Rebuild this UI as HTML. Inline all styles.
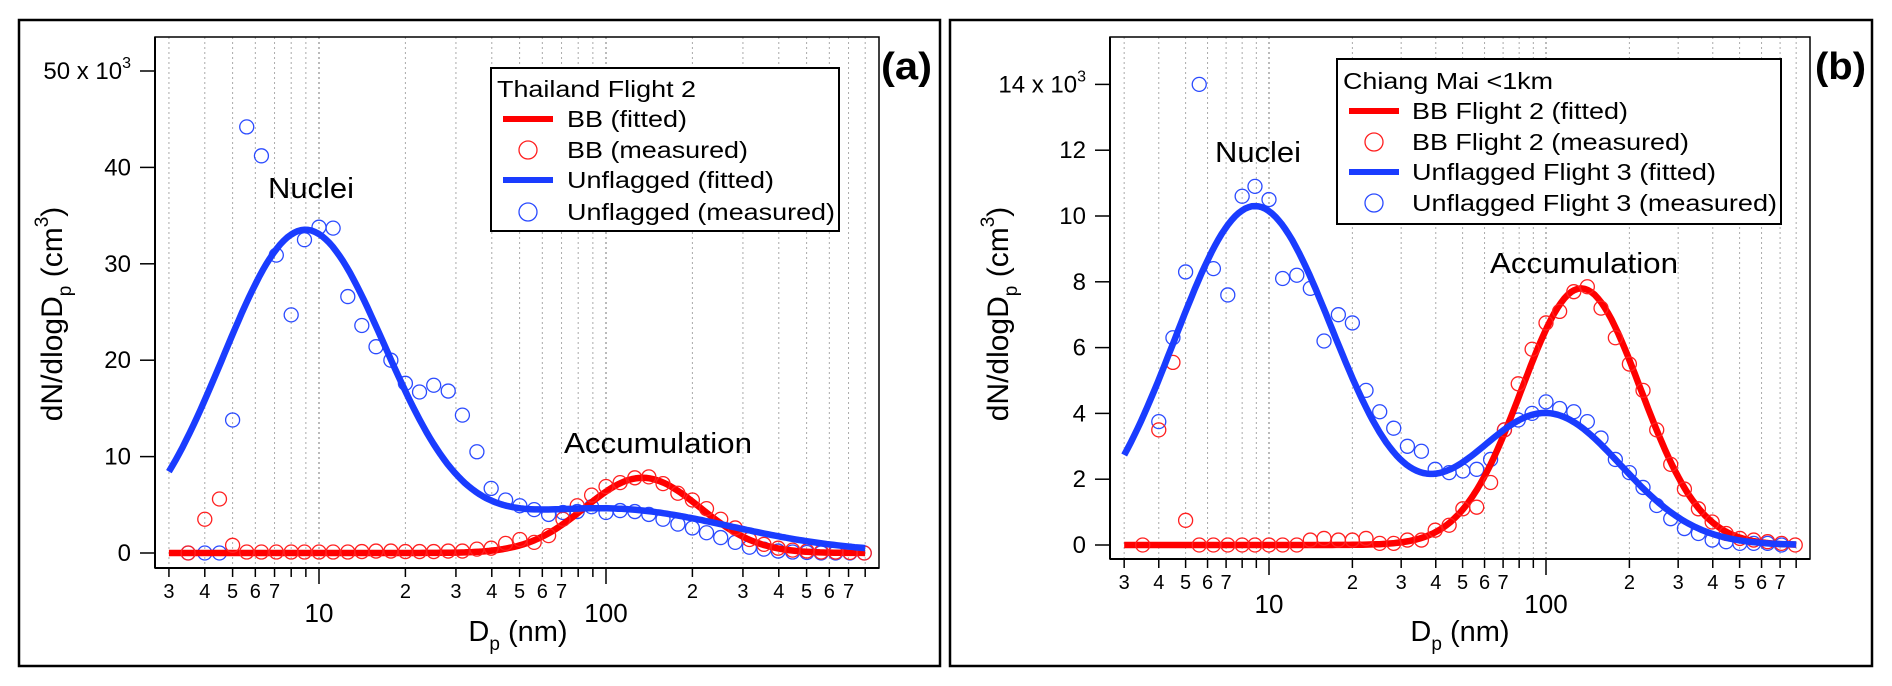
<!DOCTYPE html>
<html><head><meta charset="utf-8">
<style>
html,body{margin:0;padding:0;background:#fff;}
svg{display:block;font-family:"Liberation Sans",Arial,sans-serif;}
</style></head>
<body>
<svg id="fig" width="1892" height="686" viewBox="0 0 1892 686" xmlns="http://www.w3.org/2000/svg"></svg>
<script>
// ---- data (shared diameter bins, nm) ----
const diameters = [3.5,4.0,4.5,5.0,5.6,6.3,7.1,8.0,8.9,10,11.2,12.6,14.1,15.8,17.8,20,22.4,25.1,28.2,31.6,35.5,39.8,44.7,50.1,56.2,63.1,70.8,79.4,89.1,100,112,126,141,158,178,200,224,251,282,316,355,398,447,501,562,631,708,794];
// panel (a) measured, x10^3 cm^-3
const aBlueMeasured = [0,0,0,13.8,44.2,41.2,30.9,24.7,32.5,33.8,33.7,26.6,23.6,21.4,20.0,17.6,16.7,17.4,16.8,14.3,10.5,6.7,5.5,4.9,4.5,4.0,4.2,4.3,4.8,4.2,4.4,4.3,4.0,3.5,3.0,2.6,2.1,1.6,1.1,0.6,0.4,0.2,0.1,0.05,0,0,0,0];
const aRedMeasured = [0,3.5,5.6,0.8,0.1,0.1,0.1,0.1,0.1,0.1,0.1,0.1,0.15,0.2,0.2,0.15,0.15,0.15,0.2,0.2,0.4,0.5,1.0,1.4,1.1,1.8,3.5,4.9,6.0,6.9,7.3,7.8,7.9,7.2,6.2,5.5,4.6,3.5,2.6,1.4,0.9,0.5,0.3,0.2,0.1,0.1,0.05,0];
// panel (b) measured
const bBlueMeasured = [null,3.75,6.3,8.3,14.0,8.4,7.6,10.6,10.9,10.5,8.1,8.2,7.8,6.2,7.0,6.75,4.7,4.05,3.55,3.0,2.85,2.3,2.2,2.25,2.3,2.6,3.5,3.8,4.0,4.35,4.15,4.05,3.75,3.25,2.6,2.2,1.75,1.2,0.8,0.5,0.35,0.15,0.1,0.05,0.05,0.05,0,null];
const bRedMeasured = [0,3.5,5.55,0.75,0,0,0,0,0,0,0,0,0.15,0.2,0.15,0.15,0.2,0.05,0.05,0.15,0.15,0.45,0.6,1.1,1.15,1.9,3.5,4.9,5.95,6.75,7.1,7.7,7.85,7.2,6.3,5.5,4.7,3.5,2.45,1.7,1.1,0.7,0.35,0.2,0.15,0.1,0.05,0];
// fitted lognormal modes: [peak, median diameter nm, sigma (log10)]
const aBlueModes = [[33.3,8.9,0.285],[4.6,100,0.43]];
const aRedModes = [[7.8,134,0.2]];
const bBlueModes = [[10.3,8.9,0.29],[4.0,100,0.27]];
const bRedModes = [[7.8,134,0.215]];
const aYTicks = [0,10,20,30,40,50];
const bYTicks = [0,2,4,6,8,10,12,14];

const NS="http://www.w3.org/2000/svg";
const svg=document.getElementById('fig');
function mk(tag,attrs,parent,text){
  const e=document.createElementNS(NS,tag);
  for(const k in attrs)e.setAttribute(k,attrs[k]);
  if(text!==undefined)e.textContent=text;
  (parent||svg).appendChild(e);return e;
}
function modeVal(modes,d){let s=0;for(const m of modes){const l=Math.log10(d/m[1]);s+=m[0]*Math.exp(-l*l/(2*m[2]*m[2]));}return s;}

function panel(c){
  const g=mk('g',{});
  
  
  const fr=mk('rect',{x:c.bx,y:20,width:c.bw,height:646,fill:'none',stroke:'#000','stroke-width':2.5},g);
  
  
  const X=d=>c.x10+(Math.log10(d)-1)*c.dec;
  const Y=v=>c.y0-v*c.ppu;
  const tg=mk('g',{},g);
  
  
  const ticks=[];
  for(const base of [1,10,100]) for(let m=1;m<=9;m++){const d=m*base;if(d>=3&&d<=800)ticks.push([d,m]);}
  for(const [d,m] of ticks){
    const x=X(d);
    const gl=mk('line',{x1:x,x2:x,y1:c.top,y2:c.bot,stroke:m===1?'#777':'#aaa','stroke-width':1,'stroke-dasharray':'2,3'},tg);
    
    
    mk('line',{x1:x,x2:x,y1:c.bot,y2:c.bot+(m===1?16:9),stroke:'#000','stroke-width':1.5},tg);
    if(m===1){
      const t=mk('text',{x:x,y:c.bot+54,'font-size':26,'text-anchor':'middle'},tg,String(d));
      
      
    } else if(m<=7){
      const t=mk('text',{x:x,y:c.bot+30,'font-size':20,'text-anchor':'middle'},tg,String(m));
      
      
    }
  }
  const pf=mk('rect',{x:c.left,y:c.top,width:c.right-c.left,height:c.bot-c.top,fill:'none',stroke:'#000','stroke-width':1.5},g);
  
  
  mk('line',{x1:c.left,x2:c.left,y1:c.top,y2:c.bot,stroke:'#000','stroke-width':2},g);
  mk('line',{x1:c.left,x2:c.right,y1:c.bot,y2:c.bot,stroke:'#000','stroke-width':2},g);
  const yg=mk('g',{},g);
  
  
  c.yticks.forEach((v,i)=>{
    const y=Y(v);
    mk('line',{x1:c.left-15,x2:c.left,y1:y,y2:y,stroke:'#000','stroke-width':1.5},yg);
    const last=i===c.yticks.length-1;
    const t=mk('text',{x:c.left-24,y:y+8,'font-size':24,'text-anchor':'end'},yg);
    
    
    if(last){t.textContent=v+' x 10';mk('tspan',{dy:-11,'font-size':16},t,'3');}
    else t.textContent=String(v);
  });
  const yt=mk('text',{transform:`translate(${c.ytx},${c.yty}) rotate(-90)`,'font-size':30,'text-anchor':'middle'},g);
  
  
  yt.appendChild(document.createTextNode('dN/dlogD'));
  mk('tspan',{dy:9,'font-size':19},yt,'p');
  mk('tspan',{dy:-9},yt,' (cm');
  mk('tspan',{dy:-14,'font-size':19},yt,'3');
  mk('tspan',{dy:14},yt,')');
  const xt=mk('text',{x:c.xtx,y:641,'font-size':29,'text-anchor':'middle'},g);
  
  
  xt.appendChild(document.createTextNode('D'));
  mk('tspan',{dy:9,'font-size':19},xt,'p');
  mk('tspan',{dy:-9},xt,' (nm)');
  function circles(vals,col,nm){
    const sg=mk('g',{},g);
    
    
    vals.forEach((v,i)=>{
      if(v===null)return;
      const ci=mk('circle',{cx:X(diameters[i]),cy:Y(v),r:7,fill:'none',stroke:col,'stroke-width':1.3},sg);
      
      
    });
  }
  function fit(modes,col,nm){
    let p='';
    for(let i=0;i<=200;i++){const l=Math.log10(3)+i*(Math.log10(800)-Math.log10(3))/200;const d=Math.pow(10,l);p+=(i?'L':'M')+X(d).toFixed(1)+','+Y(modeVal(modes,d)).toFixed(1);}
    const pa=mk('path',{d:p,fill:'none',stroke:col,'stroke-width':6.5,'stroke-linejoin':'round'},g);
    
    
  }
  circles(c.blueM,'#2b4bff','unflagged-measured-points');
  fit(c.redModes,'#ff0000','bb-fitted-line');
  circles(c.redM,'#ff2020','bb-measured-points');
  fit(c.blueModes,'#1a3cff','unflagged-fitted-line');
  const n=mk('text',{x:c.nx,y:c.ny,'font-size':29,textLength:86,lengthAdjust:'spacingAndGlyphs'},g,'Nuclei');
  
  
  const a=mk('text',{x:c.ax,y:c.ay,'font-size':29,textLength:188,lengthAdjust:'spacingAndGlyphs'},g,'Accumulation');
  
  
  const pl=mk('text',{x:c.plx,y:79,'font-size':38,'font-weight':'bold',textLength:51,lengthAdjust:'spacingAndGlyphs'},g,c.plabel);
  
  
  const lg=mk('g',{},g);
  
  
  mk('rect',{x:c.lx,y:c.ly,width:c.lw,height:c.lh,fill:'#fff',stroke:'#000','stroke-width':2},lg);
  const tt=mk('text',{x:c.lx+6,y:c.rows[0]+8,'font-size':23,textLength:c.lens[0],lengthAdjust:'spacingAndGlyphs'},lg,c.ltitle);
  
  
  const cols=['#ff0000','#ff2020','#1a3cff','#2b4bff'];
  for(let i=0;i<4;i++){
    const ry=c.rows[i+1];
    const e=mk('g',{},lg);
    
    
    if(i%2===0)mk('line',{x1:c.lx+12,x2:c.lx+62,y1:ry,y2:ry,stroke:cols[i],'stroke-width':6},e);
    else mk('circle',{cx:c.lx+37,cy:ry,r:9,fill:'none',stroke:cols[i],'stroke-width':1.3},e);
    mk('text',{x:c.ltx,y:ry+8,'font-size':23,textLength:c.lens[i+1],lengthAdjust:'spacingAndGlyphs'},e,c.labels[i]);
  }
}

panel({name:'panel-a',bx:19,bw:921,left:155,right:879,top:37,bot:568,x10:319,dec:287,y0:553,ppu:9.64,
  yticks:aYTicks,ytx:62,yty:314,xtx:518,blueM:aBlueMeasured,redM:aRedMeasured,blueModes:aBlueModes,redModes:aRedModes,
  nx:268,ny:198,ax:564,ay:453,plx:881,plabel:'(a)',
  lx:491,ly:68,lw:348,lh:163,rows:[89,119,150,180,212],ltx:567,
  ltitle:'Thailand Flight 2',labels:['BB (fitted)','BB (measured)','Unflagged (fitted)','Unflagged (measured)'],lens:[199,120,181,207,268]});
panel({name:'panel-b',bx:950,bw:922,left:1110,right:1810,top:37,bot:559,x10:1269,dec:277,y0:545,ppu:32.9,
  yticks:bYTicks,ytx:1008,yty:314,xtx:1460,blueM:bBlueMeasured,redM:bRedMeasured,blueModes:bBlueModes,redModes:bRedModes,
  nx:1215,ny:162,ax:1490,ay:273,plx:1815,plabel:'(b)',
  lx:1337,ly:59,lw:444,lh:165,rows:[81,111,142,172,203],ltx:1412,
  ltitle:'Chiang Mai <1km',labels:['BB Flight 2 (fitted)','BB Flight 2 (measured)','Unflagged Flight 3 (fitted)','Unflagged Flight 3 (measured)'],lens:[210,216,277,304,365]});
</script>
</body></html>
